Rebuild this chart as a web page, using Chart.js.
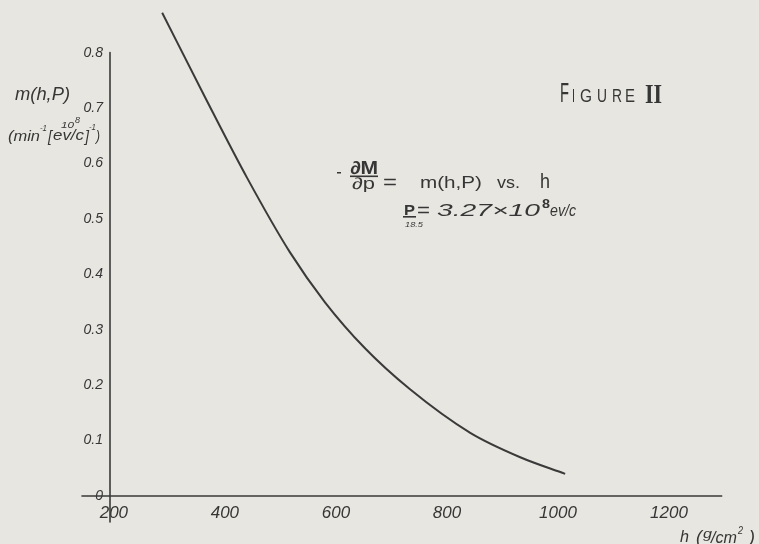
<!DOCTYPE html>
<html>
<head>
<meta charset="utf-8">
<script src="https://cdn.jsdelivr.net/npm/chart.js@4.4.1/dist/chart.umd.min.js"></script>
<style>
  html, body { margin: 0; padding: 0; background: #e7e6e0; }
  canvas { display: block; }
</style>
</head>
<body>
<canvas id="c" width="759" height="544"></canvas>
<script>
// Atmospheric depth h (g/cm^2) and m(h,p) = -dM/dp
const depth = [287, 364, 440, 517, 580, 652, 733, 842, 932, 1013];
const rate  = [0.872, 0.720, 0.574, 0.440, 0.350, 0.267, 0.193, 0.114, 0.070, 0.040];

const xTicks = [200, 400, 600, 800, 1000, 1200];
const yTicks = [0, 0.1, 0.2, 0.3, 0.4, 0.5, 0.6, 0.7, 0.8];
const yTickLabels = ['0', '0.1', '0.2', '0.3', '0.4', '0.5', '0.6', '0.7', '0.8'];

const xRange = [193, 1310];
const yRange = [0, 0.895];
const xAxisEnd = 1295;   // where the ruled h axis stops
const yAxisTop = 0.8;    // where the ruled m axis stops

const INK = '#363636';
const SANS = '"Liberation Sans", sans-serif';

// lettering is drawn stretched to a given width, like hand-lettered text
function fit(ctx, t, x, y, w, font) {
  ctx.font = font;
  const m = ctx.measureText(t).width;
  ctx.save();
  ctx.translate(x, y);
  ctx.scale(w / m, 1);
  ctx.fillText(t, 0, 0);
  ctx.restore();
}

const paper = {
  id: 'paper',
  beforeDraw(chart) {
    const { ctx, width, height } = chart;
    ctx.save();
    ctx.fillStyle = '#e7e6e0';
    ctx.fillRect(0, 0, width, height);
    ctx.restore();
  }
};

const inked = {
  id: 'inked',
  afterDraw(chart) {
    const { ctx } = chart;
    const xs = chart.scales.x, ys = chart.scales.y;
    const x0 = xs.getPixelForValue(xRange[0]);
    const y0 = ys.getPixelForValue(0);

    ctx.save();
    ctx.strokeStyle = '#3a3a3a';
    ctx.lineWidth = 1.6;
    ctx.lineCap = 'round';
    // m axis
    ctx.beginPath();
    ctx.moveTo(x0, ys.getPixelForValue(yAxisTop));
    ctx.lineTo(x0, ys.getPixelForValue(-0.047));
    ctx.stroke();
    // h axis
    ctx.beginPath();
    ctx.moveTo(x0 - 28, y0);
    ctx.lineTo(xs.getPixelForValue(xAxisEnd), y0);
    ctx.stroke();

    ctx.fillStyle = INK;
    ctx.textBaseline = 'alphabetic';
    ctx.textAlign = 'left';

    // y axis title
    fit(ctx, 'm(h,P)', 15, 100, 55, 'italic 19px ' + SANS);
    fit(ctx, '(min', 8, 141, 32, 'italic 15px ' + SANS);
    fit(ctx, '-1', 40, 131, 7, 'italic 9px ' + SANS);
    fit(ctx, '[', 48, 142, 4, 'italic 17px ' + SANS);
    fit(ctx, '10', 61, 128, 13, 'italic 9px ' + SANS);
    fit(ctx, '8', 75, 123, 5, 'italic 9px ' + SANS);
    fit(ctx, 'ev/c', 53, 140, 31, 'italic 14px ' + SANS);
    fit(ctx, ']', 85, 142, 4, 'italic 17px ' + SANS);
    fit(ctx, '-1', 89, 130, 7, 'italic 9px ' + SANS);
    fit(ctx, ')', 96, 141, 4, 'italic 15px ' + SANS);

    // x axis title
    fit(ctx, 'h', 680, 542, 9, 'italic 17px ' + SANS);
    fit(ctx, '(', 696, 543, 6, 'italic 19px ' + SANS);
    fit(ctx, 'g', 703, 538, 9, 'italic 13px ' + SANS);
    fit(ctx, '/cm', 711, 543, 26, 'italic 16px ' + SANS);
    fit(ctx, '2', 738, 534, 5, 'italic 10px ' + SANS);
    fit(ctx, ')', 749, 543, 6, 'italic 19px ' + SANS);

    // figure caption
    fit(ctx, 'F', 560, 102, 9, '27px ' + SANS);
    fit(ctx, 'I', 572, 102, 3, '19px ' + SANS);
    fit(ctx, 'G', 580, 102, 12, '19px ' + SANS);
    fit(ctx, 'U', 597, 102, 10, '19px ' + SANS);
    fit(ctx, 'R', 612, 102, 10, '19px ' + SANS);
    fit(ctx, 'E', 625, 102, 10, '19px ' + SANS);
    fit(ctx, 'II', 645, 103, 17, 'bold 28px "Liberation Serif", serif');

    // defining relation
    ctx.fillRect(337, 172, 4, 1.5);
    fit(ctx, '\u2202M', 350, 174, 28, 'bold 18px ' + SANS);
    ctx.fillRect(350, 175.5, 28, 1.6);
    fit(ctx, '\u2202p', 352, 189, 23, '16px ' + SANS);
    fit(ctx, '=', 383, 189, 14, '20px ' + SANS);
    fit(ctx, 'm(h,P)', 420, 188, 62, '17px ' + SANS);
    fit(ctx, 'vs.', 497, 188, 23, '16px ' + SANS);
    fit(ctx, 'h', 540, 188, 10, '20px ' + SANS);

    // momentum of the curve
    fit(ctx, 'P', 404, 215, 11, 'bold 15px ' + SANS);
    ctx.fillRect(403, 216, 13, 1.6);
    fit(ctx, '18.5', 405, 227, 18, 'italic 8px ' + SANS);
    fit(ctx, '=', 417, 217, 13, '20px ' + SANS);
    fit(ctx, '3.27\u00d710', 437, 216, 103, 'italic 17px ' + SANS);
    fit(ctx, '8', 542, 208, 8, 'bold 13px ' + SANS);
    fit(ctx, 'ev/c', 550, 216, 26, 'italic 17px ' + SANS);
    ctx.restore();
  }
};

new Chart(document.getElementById('c'), {
  type: 'line',
  data: {
    datasets: [{
      data: depth.map((h, i) => ({ x: h, y: rate[i] })),
      borderColor: '#3a3a3a',
      borderWidth: 2,
      pointRadius: 0,
      cubicInterpolationMode: 'monotone',
      fill: false
    }]
  },
  options: {
    responsive: false,
    animation: false,
    events: [],
    layout: { padding: { left: 0, right: 29, top: 0, bottom: 0 } },
    plugins: { legend: { display: false }, tooltip: { enabled: false } },
    scales: {
      x: {
        type: 'linear',
        min: xRange[0],
        max: xRange[1],
        grid: { display: false, drawTicks: false },
        border: { display: false },
        afterBuildTicks: s => { s.ticks = xTicks.map(v => ({ value: v })); },
        afterFit: s => { s.height = 48; s.paddingLeft = 0; s.paddingRight = 0; },
        ticks: {
          color: INK,
          font: { family: SANS, size: 17, style: 'italic' },
          padding: 7,
          maxRotation: 0,
          autoSkip: false,
          callback: v => String(v)
        }
      },
      y: {
        type: 'linear',
        min: yRange[0],
        max: yRange[1],
        grid: { display: false, drawTicks: false },
        border: { display: false },
        afterBuildTicks: s => { s.ticks = yTicks.map(v => ({ value: v })); },
        afterFit: s => { s.width = 110; s.paddingTop = 0; s.paddingBottom = 0; },
        ticks: {
          color: INK,
          font: { family: SANS, size: 14, style: 'italic' },
          padding: 7,
          autoSkip: false,
          callback: v => yTickLabels[yTicks.indexOf(v)]
        }
      }
    }
  },
  plugins: [paper, inked]
});
</script>
</body>
</html>
